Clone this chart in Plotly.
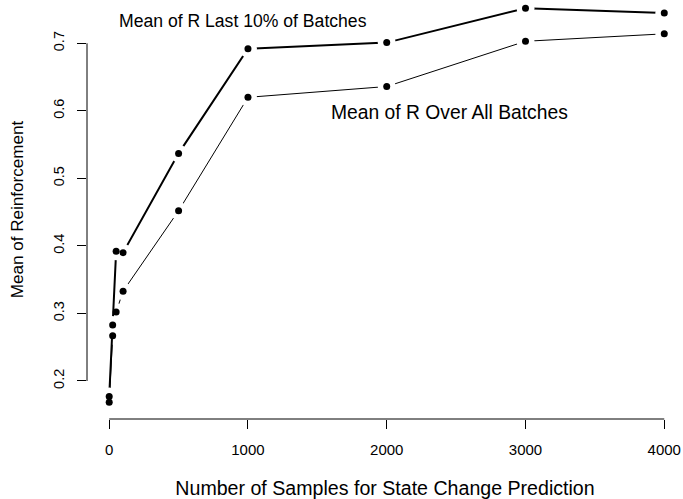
import plotly.graph_objects as go

# Data
samples = [0, 25, 50, 100, 500, 1000, 2000, 3000, 4000]
r_last10 = [0.177, 0.283, 0.392, 0.390, 0.537, 0.692, 0.701, 0.752, 0.745]
r_all = [0.1685, 0.267, 0.302, 0.333, 0.452, 0.620, 0.636, 0.703, 0.714]

x_ticks = [0, 1000, 2000, 3000, 4000]
y_ticks = [0.2, 0.3, 0.4, 0.5, 0.6, 0.7]

label_last = "Mean of R Last 10% of Batches"
label_all = "Mean of R Over All Batches"
label_last_pos = (965, 0.733)
label_all_pos = (2450, 0.598)

FONT = "Liberation Sans, Arial, Helvetica, sans-serif"

fig = go.Figure()

def add_series(y, width):
    # connecting line
    fig.add_trace(go.Scatter(x=samples, y=y, mode="lines",
                             line=dict(color="black", width=width),
                             hoverinfo="skip", showlegend=False, cliponaxis=False))
    # white halos to create the R type="b" gaps around the points
    fig.add_trace(go.Scatter(x=samples, y=y, mode="markers",
                             marker=dict(color="white", size=18, line=dict(width=0)),
                             hoverinfo="skip", showlegend=False, cliponaxis=False))

add_series(r_all, 1)
add_series(r_last10, 2)

for y in (r_all, r_last10):
    fig.add_trace(go.Scatter(x=samples, y=y, mode="markers",
                             marker=dict(color="black", size=7, line=dict(width=0)),
                             showlegend=False, cliponaxis=False))

fig.add_annotation(x=label_last_pos[0], y=label_last_pos[1], text=label_last,
                   showarrow=False, font=dict(family=FONT, size=17.6, color="black"),
                   xanchor="center", yanchor="middle")
fig.add_annotation(x=label_all_pos[0], y=label_all_pos[1], text=label_all,
                   showarrow=False, font=dict(family=FONT, size=19.3, color="black"),
                   xanchor="center", yanchor="middle")

# R-style axis lines spanning only first to last tick
fig.add_shape(type="line", xref="x", yref="paper", x0=x_ticks[0], x1=x_ticks[-1],
              y0=0, y1=0, line=dict(color="black", width=1))
fig.add_shape(type="line", xref="paper", yref="y", x0=0, x1=0,
              y0=y_ticks[0], y1=y_ticks[-1], line=dict(color="black", width=1))

fig.update_xaxes(range=[-160, 4135], tickvals=x_ticks, ticktext=[str(v) for v in x_ticks],
                 ticks="outside", ticklen=9, tickwidth=1, tickcolor="black",
                 showline=False, showgrid=False, zeroline=False,
                 tickfont=dict(family=FONT, size=15, color="black"),
                 ticklabelstandoff=8,
                 title=dict(text="Number of Samples for State Change Prediction",
                            font=dict(family=FONT, size=19.6, color="black"), standoff=26))
fig.update_yaxes(range=[0.1437, 0.7641], tickvals=y_ticks, ticktext=[f"{v:.1f}" for v in y_ticks],
                 ticks="outside", ticklen=9, tickwidth=1, tickcolor="black",
                 showline=False, showgrid=False, zeroline=False, tickangle=-90,
                 tickfont=dict(family=FONT, size=14.5, color="black"),
                 ticklabelstandoff=7,
                 title=dict(text="Mean of Reinforcement",
                            font=dict(family=FONT, size=17.1, color="black"), standoff=23))

fig.update_layout(width=683, height=499, margin=dict(l=87, r=0, t=0, b=80),
                  plot_bgcolor="white", paper_bgcolor="white",
                  font=dict(family=FONT, color="black"))

fig.write_html("out.html")
